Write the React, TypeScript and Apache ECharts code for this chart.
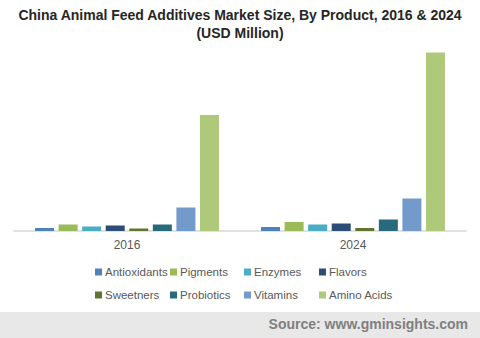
import React, { useEffect, useRef } from "react";
import * as echarts from "echarts";

const categories = ["2016", "2024"];
const seriesNames = ["Antioxidants", "Pigments", "Enzymes", "Flavors", "Sweetners", "Probiotics", "Vitamins", "Amino Acids"];
const values2016 = [3, 6.5, 4.5, 5.5, 2.5, 6.5, 23.5, 116];
const values2024 = [4, 9, 6.5, 7.5, 3, 11.5, 32.5, 178.5];
const colors = ["#4f81bd", "#9bbb59", "#4bacc6", "#2c4d75", "#5f7530", "#276a7c", "#729aca", "#afc97a"];

const legendLeft = [95, 170, 244, 319];
const legendTop = [266, 289];

export default function App() {
  const ref = useRef<HTMLDivElement>(null);
  useEffect(() => {
    if (!ref.current) return;
    const chart = echarts.init(ref.current, undefined, { renderer: "svg" });
    const legends = seriesNames.map((name, i) => ({
      data: [name],
      left: legendLeft[i % 4],
      top: legendTop[Math.floor(i / 4)],
      padding: 0,
      itemWidth: 7,
      itemHeight: 7,
      icon: "rect",
      selectedMode: false,
      textStyle: { color: "#595959", fontSize: 11.5, fontFamily: "Liberation Sans", padding: [0, 0, 0, -2] },
    }));
    chart.setOption({
      animation: false,
      color: colors,
      title: {
        text: "China Animal Feed Additives Market Size, By Product, 2016 & 2024\n(USD Million)",
        left: "center",
        top: 1,
        textStyle: { fontFamily: "Liberation Sans", fontWeight: "bold", fontSize: 14, color: "#262626", lineHeight: 18 },
      },
      legend: legends,
      grid: { left: 14, right: 14, top: 51, height: 180, containLabel: false },
      xAxis: {
        type: "category",
        data: categories,
        axisLine: { lineStyle: { color: "#d9d9d9", width: 1.5 } },
        axisTick: { show: false },
        axisLabel: { color: "#595959", fontSize: 12, fontFamily: "Liberation Sans", margin: 8 },
      },
      yAxis: { type: "value", min: 0, max: 180, show: false, splitLine: { show: false } },
      series: seriesNames.map((name, i) => ({
        name,
        type: "bar",
        data: [values2016[i], values2024[i]],
        barWidth: 19,
        barGap: "24%",
        itemStyle: { color: colors[i] },
      })),
      graphic: [
        { type: "rect", shape: { x: 0, y: 312, width: 480, height: 26 }, style: { fill: "#e8e8e8" }, z: -1 },
        {
          type: "text",
          right: 12,
          top: 317,
          style: { text: "Source: www.gminsights.com", fill: "#7f7f7f", font: "bold 14px 'Liberation Sans'" },
        },
      ],
    });
    return () => chart.dispose();
  }, []);
  return <div ref={ref} style={{ width: 480, height: 338, position: "absolute", left: 0, top: 0 }} />;
}
